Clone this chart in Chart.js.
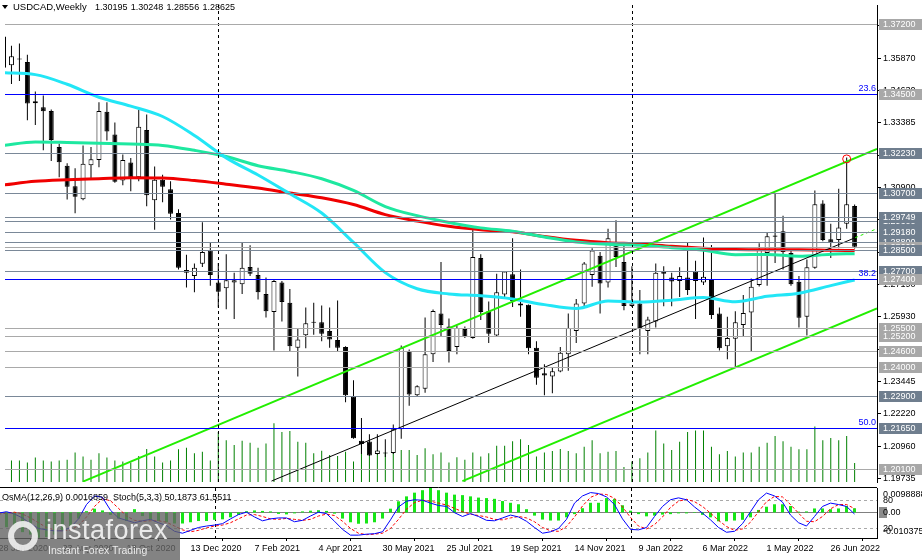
<!DOCTYPE html>
<html>
<head>
<meta charset="utf-8">
<title>USDCAD Weekly</title>
<script src="https://cdn.jsdelivr.net/npm/chart.js@4.4.1/dist/chart.umd.min.js"></script>
<style>
  html, body { margin: 0; padding: 0; background: #fff; }
  #wrap { position: relative; width: 922px; height: 560px; overflow: hidden; background: #fff; }
  canvas { position: absolute; left: 0; }
  #priceChart { top: 0; }
  #oscChart { top: 487px; }
  #logo { position: absolute; left: 0; top: 513px; width: 180px; height: 47px; background: rgba(100,100,100,0.8); font-family: "Liberation Sans", Arial, sans-serif; color: rgba(240,240,240,0.95); }
  #logo .ring { position: absolute; left: 8px; top: 8px; width: 18px; height: 18px; border: 6px solid rgba(240,240,240,0.9); border-radius: 50%; }
  #logo .brand { position: absolute; left: 46px; top: 3px; font-size: 27px; line-height: 28px; letter-spacing: 0.5px; }
  #logo .tag { position: absolute; left: 48px; top: 31px; font-size: 10.5px; line-height: 12px; }
</style>
</head>
<body>
<div id="wrap">
  <canvas id="priceChart" width="922" height="487"></canvas>
  <canvas id="oscChart" width="922" height="73"></canvas>
  <div id="logo"><div class="ring"></div><div class="brand">instaforex</div><div class="tag">Instant Forex Trading</div></div>
</div>
<script>
// ================================================================
// USDCAD Weekly - data
// ================================================================

// weekly candles, first entry is the week of 28 Jun 2020
const openPrice = [
  1.3670, 1.3560, 1.3586, 1.3572, 1.3422, 1.3399, 1.3384, 1.3246, 1.3174, 1.3095,
  1.3045, 1.3176, 1.3196, 1.3381, 1.3294, 1.3117, 1.3186, 1.3130, 1.3311, 1.3041,
  1.3120, 1.3083, 1.2992, 1.2773, 1.2750, 1.2797, 1.2848, 1.2725, 1.2703, 1.2725,
  1.2718, 1.2785, 1.2754, 1.2681, 1.2612, 1.2725, 1.2647, 1.2474, 1.2522, 1.2570,
  1.2572, 1.2539, 1.2504, 1.2477, 1.2286, 1.2117, 1.2114, 1.2066, 1.2070, 1.2070,
  1.2161, 1.2462, 1.2292, 1.2317, 1.2449, 1.2606, 1.2556, 1.2477, 1.2546, 1.2512,
  1.2819, 1.2615, 1.2521, 1.2679, 1.2757, 1.2644, 1.2640, 1.2474, 1.2376, 1.2364,
  1.2383, 1.2449, 1.2539, 1.2644, 1.2754, 1.2828, 1.2725, 1.2872, 1.2804, 1.2635,
  1.2644, 1.2539, 1.2575, 1.2767, 1.2744, 1.2731, 1.2744, 1.2767, 1.2725, 1.2735,
  1.2606, 1.2480, 1.2509, 1.2562, 1.2610, 1.2715, 1.2838, 1.2906, 1.2922, 1.2838,
  1.2728, 1.2593, 1.2782, 1.3029, 1.2891, 1.2888, 1.2951, 1.30195
];
const highPrice = [
  1.3700, 1.3635, 1.3644, 1.3600, 1.3459, 1.3444, 1.3390, 1.3258, 1.3183, 1.3164,
  1.3252, 1.3246, 1.3418, 1.3418, 1.3340, 1.3217, 1.3204, 1.3388, 1.3371, 1.3171,
  1.3139, 1.3114, 1.3007, 1.2832, 1.2798, 1.2957, 1.2879, 1.2800, 1.2834, 1.2763,
  1.2878, 1.2868, 1.2782, 1.2744, 1.2738, 1.2731, 1.2700, 1.2546, 1.2629, 1.2647,
  1.2637, 1.2629, 1.2656, 1.2480, 1.2349, 1.2204, 1.2142, 1.2142, 1.2123, 1.2179,
  1.2483, 1.2468, 1.2330, 1.2591, 1.2621, 1.2804, 1.2587, 1.2560, 1.2556, 1.2932,
  1.2834, 1.2652, 1.2759, 1.2769, 1.2895, 1.2775, 1.2641, 1.2499, 1.2411, 1.2399,
  1.2477, 1.2606, 1.2662, 1.2804, 1.2857, 1.2842, 1.2932, 1.2964, 1.2876, 1.2788,
  1.2696, 1.2593, 1.2798, 1.2788, 1.2763, 1.2784, 1.2879, 1.2809, 1.2898, 1.2869,
  1.2629, 1.2593, 1.2615, 1.2677, 1.2740, 1.2876, 1.2916, 1.3067, 1.2982, 1.2847,
  1.2750, 1.2813, 1.3079, 1.3041, 1.2951, 1.3085, 1.3205, 1.30248
];
const lowPrice = [
  1.3530, 1.3488, 1.3499, 1.3349, 1.3330, 1.3233, 1.3192, 1.3130, 1.3044, 1.2991,
  1.3041, 1.3127, 1.3168, 1.3271, 1.3108, 1.3099, 1.3076, 1.3114, 1.3018, 1.2928,
  1.3033, 1.2967, 1.2775, 1.2706, 1.2688, 1.2785, 1.2713, 1.2629, 1.2622, 1.2585,
  1.2681, 1.2750, 1.2660, 1.2591, 1.2464, 1.2575, 1.2462, 1.2364, 1.2472, 1.2524,
  1.2499, 1.2474, 1.2459, 1.2265, 1.2125, 1.2066, 1.2058, 1.2064, 1.2054, 1.2066,
  1.2125, 1.2251, 1.2288, 1.2301, 1.2420, 1.2518, 1.2418, 1.2449, 1.2512, 1.2509,
  1.2581, 1.2493, 1.2518, 1.2665, 1.2631, 1.2593, 1.2449, 1.2332, 1.2292, 1.2299,
  1.2380, 1.2386, 1.2493, 1.2631, 1.2709, 1.2606, 1.2706, 1.2785, 1.2618, 1.2631,
  1.2449, 1.2449, 1.2552, 1.2634, 1.2634, 1.2669, 1.2677, 1.2585, 1.2715, 1.2585,
  1.2464, 1.2430, 1.2401, 1.2518, 1.2462, 1.2710, 1.2713, 1.2800, 1.2775, 1.2713,
  1.2552, 1.2521, 1.2778, 1.2884, 1.2819, 1.2857, 1.2932, 1.28556
];
const closePrice = [
  1.3550, 1.3595, 1.3582, 1.3413, 1.3414, 1.3383, 1.3273, 1.3187, 1.3093, 1.3055,
  1.3181, 1.3199, 1.3384, 1.3305, 1.3112, 1.3196, 1.3130, 1.3324, 1.3060, 1.3120,
  1.3093, 1.2989, 1.2782, 1.2763, 1.2782, 1.2842, 1.2754, 1.2690, 1.2734, 1.2734,
  1.2782, 1.2759, 1.2688, 1.2615, 1.2731, 1.2650, 1.2480, 1.2506, 1.2568, 1.2572,
  1.2528, 1.2506, 1.2474, 1.2292, 1.2127, 1.2104, 1.2060, 1.2079, 1.2068, 1.2161,
  1.2474, 1.2295, 1.2326, 1.2449, 1.2616, 1.2562, 1.2462, 1.2550, 1.2516, 1.2823,
  1.2612, 1.2528, 1.2688, 1.2767, 1.2654, 1.2637, 1.2472, 1.2359, 1.2368, 1.2384,
  1.2455, 1.2550, 1.2644, 1.2798, 1.2848, 1.2721, 1.2895, 1.2823, 1.2635, 1.2644,
  1.2547, 1.2583, 1.2763, 1.2759, 1.2729, 1.2750, 1.2696, 1.2731, 1.2747, 1.2600,
  1.2472, 1.2512, 1.2572, 1.2608, 1.2709, 1.2851, 1.2903, 1.2901, 1.2842, 1.2718,
  1.2590, 1.2784, 1.3026, 1.2888, 1.2879, 1.2936, 1.3026, 1.28625
];
const tickVolume = [
  70, 66, 66, 60, 75, 66, 63, 66, 68, 90,
  78, 68, 88, 75, 66, 63, 60, 80, 101, 78,
  60, 66, 100, 105, 88, 93, 66, 153, 128, 113,
  126, 120, 105, 118, 180, 153, 156, 123, 120, 88,
  96, 83, 80, 93, 63, 118, 90, 98, 90, 88,
  98, 98, 83, 103, 85, 90, 60, 76, 68, 90,
  78, 88, 111, 111, 125, 131, 113, 78, 90, 95,
  101, 95, 88, 108, 128, 88, 93, 95, 46, 63,
  73, 90, 158, 118, 98, 123, 153, 158, 158, 108,
  85, 95, 78, 90, 90, 108, 120, 141, 125, 108,
  100, 100, 170, 128, 135, 128, 141, 58
];

// OsMA(12,26,9) and Stoch(5,3,3), same weeks as the candles
const osmaValue = [
  -0.0055, -0.0060, -0.0070, -0.0080, -0.0090, -0.0103, -0.0100, -0.0090, -0.0075, -0.0055,
  -0.0025, 0.0005, 0.0015, 0.0008, -0.0010, -0.0025, -0.0035, 0.0013, -0.0015, -0.0030,
  -0.0035, -0.0040, -0.0045, -0.0045, -0.0040, -0.0035, -0.0035, -0.0030, -0.0028, -0.0020,
  -0.0010, 0.0005, 0.0008, 0.0006, 0.0004, -0.0006, -0.0008, -0.0004, 0.0004, 0.0007,
  0.0009, 0.0006, -0.0005, -0.0025, -0.0040, -0.0046, -0.0045, -0.0040, -0.0025, 0.0015,
  0.0045, 0.0065, 0.0080, 0.0090, 0.0099, 0.0090, 0.0080, 0.0072, 0.0070, 0.0065,
  0.0060, 0.0058, 0.0055, 0.0046, 0.0039, 0.0033, 0.0013, -0.0013, -0.0029, -0.0033,
  -0.0033, -0.0020, -0.0007, 0.0017, 0.0039, 0.0039, 0.0058, 0.0055, 0.0029, 0.0007,
  -0.0007, -0.0016, -0.0013, -0.0009, -0.0007, -0.0004, -0.0004, -0.0002, -0.0010, -0.0020,
  -0.0036, -0.0036, -0.0033, -0.0030, -0.0020, 0.0010, 0.0023, 0.0033, 0.0033, 0.0026,
  0.0003, 0.0004, 0.0016, 0.0016, 0.0013, 0.0016, 0.0026, 0.0016859
];
const stochMain = [
  52, 55, 50, 42, 30, 20, 17, 15, 15, 22,
  40, 70, 88, 85, 58, 42, 37, 32, 36, 39,
  32, 26, 14, 10, 16, 22, 25, 27, 30, 40,
  49, 54, 44, 36, 40, 42, 42, 34, 37, 46,
  54, 51, 35, 18, 6, 6, 8, 9, 13, 38,
  65, 77, 80, 79, 73, 68, 66, 53, 45, 51,
  45, 37, 36, 42, 48, 44, 35, 22, 10, 13,
  20, 39, 73, 88, 95, 93, 86, 70, 40, 18,
  17, 22, 45, 66, 80, 84, 80, 65, 52, 38,
  22, 12, 14, 30, 55, 80, 94, 88, 75, 48,
  32, 25, 45, 66, 73, 70, 66, 50.1873
];
const stochSignal = [
  50, 52, 54, 50, 42, 32, 22, 17, 15, 17,
  26, 44, 66, 82, 78, 62, 46, 37, 35, 36,
  36, 33, 25, 17, 13, 16, 21, 25, 27, 32,
  40, 48, 49, 45, 40, 39, 41, 39, 37, 39,
  46, 50, 47, 35, 20, 10, 7, 8, 10, 20,
  39, 60, 74, 79, 77, 73, 69, 62, 55, 50,
  47, 44, 39, 38, 42, 45, 42, 34, 22, 15,
  14, 24, 44, 67, 85, 92, 91, 83, 65, 43,
  25, 19, 28, 44, 64, 77, 81, 76, 66, 52,
  37, 24, 16, 19, 33, 55, 76, 87, 86, 70,
  52, 35, 34, 45, 61, 70, 70, 61.5511
];

// moving averages, read every 4 weeks
const maWeeks = [-1, 3, 7, 11, 15, 19, 23, 27, 31, 35, 39, 43, 47, 51, 55, 59, 63, 67, 71, 75, 79, 83, 87, 91, 95, 99, 103, 106];
const maCyan = [1.3531, 1.3524, 1.3487, 1.3437, 1.3403, 1.3363, 1.3290, 1.3204, 1.3138, 1.3066, 1.2992, 1.2879, 1.2763, 1.2701, 1.2681, 1.2674, 1.2662, 1.2640, 1.2625, 1.2654, 1.2650, 1.2657, 1.2667, 1.2651, 1.2672, 1.2684, 1.2713, 1.2735];
const maMint = [1.3252, 1.3265, 1.3263, 1.3260, 1.3257, 1.3252, 1.3233, 1.3209, 1.3174, 1.3152, 1.3124, 1.3079, 1.3017, 1.2982, 1.2956, 1.2935, 1.2922, 1.2900, 1.2881, 1.2872, 1.2868, 1.2859, 1.2849, 1.2832, 1.2833, 1.2826, 1.2834, 1.2836];
const maRed = [1.3100, 1.3114, 1.3120, 1.3124, 1.3128, 1.3127, 1.3117, 1.3103, 1.3088, 1.3069, 1.3051, 1.3025, 1.2986, 1.2961, 1.2941, 1.2928, 1.2920, 1.2902, 1.2887, 1.2878, 1.2873, 1.2864, 1.2857, 1.2852, 1.2851, 1.2851, 1.2849, 1.2848];

// trend channel (week, price)
const upperChannelWeeks = [8.98, 108.81];
const upperChannelPrice = [1.1960, 1.3238];
const lowerChannelWeeks = [56.69, 108.81];
const lowerChannelPrice = [1.1962, 1.2625];
const trendWeeks = [32.69, 106.06];
const trendPrice = [1.1962, 1.2897];
const trendExtWeeks = [106.06, 108.81];
const trendExtPrice = [1.2897, 1.2932];
const markWeek = [105];
const markPrice = [1.3200];

// horizontal levels
const levelPrices = [1.3720, 1.3450, 1.3223, 1.3070, 1.2960, 1.29749, 1.2918, 1.2880, 1.2860, 1.2850, 1.2770, 1.2740, 1.2550, 1.2520, 1.2460, 1.2400, 1.2290, 1.2165, 1.2010];
const fibPrices = [1.3450, 1.2740, 1.2165];
const fibLabels = ['23.6', '38.2', '50.0'];

// axes
const priceTicks = [1.37110, 1.35870, 1.34630, 1.33385, 1.32140, 1.30900, 1.29655, 1.28415, 1.27190, 1.25930, 1.24690, 1.23445, 1.22220, 1.20960, 1.19735];
const dateLabels = ['28 Jun 2020', '23 Aug 2020', '18 Oct 2020', '13 Dec 2020', '7 Feb 2021', '4 Apr 2021', '30 May 2021', '25 Jul 2021', '19 Sep 2021', '14 Nov 2021', '9 Jan 2022', '6 Mar 2022', '1 May 2022', '26 Jun 2022'];
const dateLabelWeeks = [-1, 7, 15, 23, 31, 39, 47, 55, 63, 71, 79, 87, 95, 103];
const separatorWeeks = [26, 78];

// ================================================================
// styles
// ================================================================
const FONT = '"Liberation Sans", Arial, sans-serif';
const levelLineColor = { g: '#a9a9a9', s: '#7a8898', f: '#0000ff' };
const levelLineKind = ['g', 'f', 's', 's', 's', 's', 's', 's', 'g', 's', 's', 'f', 'g', 'g', 'g', 'g', 's', 'f', 'g'];
const levelBoxColor = { g: '#a8a8a8', s: '#6f7e8e' };
const levelBoxKind = ['g', 'g', 's', 's', 's', 's', 's', 's', 'g', 's', 's', 'g', 'g', 'g', 'g', 'g', 's', 's', 'g'];
const X_MIN = -0.8125;
const X_MAX = 108.8125;

const weekIndex = openPrice.map((_, i) => i - 1);
const xy = (xs, ys) => xs.map((x, i) => ({ x: x, y: ys[i] }));

function hLine(ctx, area, py) {
  const yy = Math.round(py) + 0.5;
  ctx.beginPath();
  ctx.moveTo(area.left, yy);
  ctx.lineTo(area.right, yy);
  ctx.stroke();
}

function vLine(ctx, area, px) {
  const xx = Math.round(px) + 0.5;
  ctx.beginPath();
  ctx.moveTo(xx, area.top);
  ctx.lineTo(xx, area.bottom);
  ctx.stroke();
}

// ================================================================
// main pane overlay
// ================================================================
const priceOverlay = {
  id: 'priceOverlay',
  afterDatasetsDraw(chart) {
    const { ctx, chartArea: area, scales: { x, y } } = chart;
    ctx.save();
    ctx.lineWidth = 1;

    // period separators
    ctx.strokeStyle = '#000';
    ctx.setLineDash([3, 3]);
    separatorWeeks.forEach(w => vLine(ctx, area, x.getPixelForValue(w)));
    ctx.setLineDash([]);

    // levels
    levelPrices.forEach((p, i) => {
      ctx.strokeStyle = levelLineColor[levelLineKind[i]];
      hLine(ctx, area, y.getPixelForValue(p));
    });

    // fibo texts
    ctx.font = '9px ' + FONT;
    ctx.fillStyle = '#0000ff';
    ctx.textAlign = 'right';
    ctx.textBaseline = 'bottom';
    fibPrices.forEach((p, i) => {
      ctx.fillText(fibLabels[i], area.right - 1, Math.round(y.getPixelForValue(p)) - 1);
    });
    ctx.restore();
  },
  afterDraw(chart) {
    const { ctx, chartArea: area, scales: { y } } = chart;
    ctx.save();

    // level labels on the price axis
    ctx.font = '9px ' + FONT;
    ctx.textAlign = 'left';
    ctx.textBaseline = 'middle';
    levelPrices.forEach((p, i) => {
      const py = Math.round(y.getPixelForValue(p));
      ctx.fillStyle = levelBoxColor[levelBoxKind[i]];
      ctx.fillRect(area.right + 2, py - 5, chart.width - area.right - 2, 11);
      ctx.fillStyle = '#ffffff';
      ctx.fillText(p.toFixed(5), area.right + 6, py + 0.5);
    });

    // title
    const last = openPrice.length - 1;
    ctx.fillStyle = '#000';
    ctx.beginPath();
    ctx.moveTo(2, 5);
    ctx.lineTo(8, 5);
    ctx.lineTo(5, 9);
    ctx.closePath();
    ctx.fill();
    ctx.font = '9.5px ' + FONT;
    ctx.fillText('USDCAD,Weekly', 13, 7.5);
    ctx.font = '9px ' + FONT;
    [openPrice[last], highPrice[last], lowPrice[last], closePrice[last]].forEach((v, i) => {
      ctx.fillText(v.toFixed(5), 95 + i * 35.8, 7.5);
    });
    ctx.restore();
  }
};

// ================================================================
// oscillator pane overlay
// ================================================================
const oscOverlay = {
  id: 'oscOverlay',
  beforeDatasetsDraw(chart) {
    const { ctx, chartArea: area, scales: { x, yO, yS } } = chart;
    ctx.save();
    ctx.lineWidth = 1;
    ctx.strokeStyle = '#a9a9a9';
    ctx.setLineDash([3, 3]);
    hLine(ctx, area, yS.getPixelForValue(80));
    hLine(ctx, area, yS.getPixelForValue(20));
    ctx.setLineDash([]);
    ctx.strokeStyle = '#808080';
    hLine(ctx, area, yO.getPixelForValue(0));
    ctx.strokeStyle = '#000';
    ctx.setLineDash([3, 3]);
    separatorWeeks.forEach(w => vLine(ctx, area, x.getPixelForValue(w)));
    ctx.restore();
  },
  afterDraw(chart) {
    const { ctx, chartArea: area, scales: { yO, yS } } = chart;
    const last = osmaValue.length - 1;
    ctx.save();

    // pane border
    ctx.strokeStyle = '#000';
    ctx.lineWidth = 1;
    ctx.beginPath();
    ctx.moveTo(0, 0.5);
    ctx.lineTo(area.right, 0.5);
    ctx.stroke();

    // header
    ctx.font = '9px ' + FONT;
    ctx.fillStyle = '#000';
    ctx.textAlign = 'left';
    ctx.textBaseline = 'middle';
    ctx.fillText('OsMA(12,26,9) ' + osmaValue[last].toFixed(7) + '  Stoch(5,3,3) ' +
      stochMain[last].toFixed(4) + ' ' + stochSignal[last].toFixed(4), 2, 11);

    // right scale texts
    const rx = area.right + 6;
    ctx.fillText('0.0098888', rx, area.top + 7);
    ctx.fillText('80', rx, Math.round(yS.getPixelForValue(80)) + 0.5);
    ctx.fillText('-0.010375', rx, area.bottom - 6);
    ctx.fillText('20', rx, Math.round(yS.getPixelForValue(20)) + 0.5);
    const zy = Math.round(yO.getPixelForValue(0));
    ctx.fillStyle = '#8c8c8c';
    ctx.fillRect(area.right + 2, zy - 5, 8, 11);
    ctx.fillStyle = '#000';
    ctx.fillText('0.00', rx, zy + 0.5);
    ctx.restore();
  }
};

// ================================================================
// price chart
// ================================================================
new Chart(document.getElementById('priceChart'), {
  type: 'bar',
  data: {
    datasets: [
      {
        type: 'bar', label: 'Volumes', yAxisID: 'yVol',
        data: xy(weekIndex, tickVolume),
        backgroundColor: '#008000', barThickness: 1, grouped: false, inflateAmount: 0, order: 20
      },
      {
        type: 'bar', label: 'Wicks', yAxisID: 'y',
        data: weekIndex.map((w, i) => ({ x: w, y: [lowPrice[i], highPrice[i]] })),
        backgroundColor: '#000000', barThickness: 1, grouped: false, inflateAmount: 0, order: 19
      },
      {
        type: 'bar', label: 'Bodies', yAxisID: 'y',
        data: weekIndex.map((w, i) => ({ x: w, y: [openPrice[i], closePrice[i]] })),
        backgroundColor: c => (closePrice[c.dataIndex] >= openPrice[c.dataIndex] ? '#ffffff' : '#000000'),
        borderColor: '#000000', borderWidth: 1, borderSkipped: false,
        barThickness: 5, minBarLength: 1, grouped: false, inflateAmount: 0, order: 18
      },
      {
        type: 'line', label: 'MA red', yAxisID: 'y', data: xy(maWeeks, maRed),
        borderColor: '#f00000', borderWidth: 3, pointRadius: 0, cubicInterpolationMode: 'monotone', order: 17
      },
      {
        type: 'line', label: 'MA mint', yAxisID: 'y', data: xy(maWeeks, maMint),
        borderColor: '#1ee8a0', borderWidth: 3, pointRadius: 0, cubicInterpolationMode: 'monotone', order: 16
      },
      {
        type: 'line', label: 'MA cyan', yAxisID: 'y', data: xy(maWeeks, maCyan),
        borderColor: '#22e6f6', borderWidth: 3, pointRadius: 0, cubicInterpolationMode: 'monotone', order: 15
      },
      {
        type: 'line', label: 'Trend', yAxisID: 'y', data: xy(trendWeeks, trendPrice),
        borderColor: '#000000', borderWidth: 1, pointRadius: 0, order: 14
      },
      {
        type: 'line', label: 'Trend ext', yAxisID: 'y', data: xy(trendExtWeeks, trendExtPrice),
        borderColor: '#22ee00', borderWidth: 1, borderDash: [3, 3], pointRadius: 0, order: 13
      },
      {
        type: 'line', label: 'Lower channel', yAxisID: 'y', data: xy(lowerChannelWeeks, lowerChannelPrice),
        borderColor: '#22ee00', borderWidth: 2, pointRadius: 0, order: 12
      },
      {
        type: 'line', label: 'Upper channel', yAxisID: 'y', data: xy(upperChannelWeeks, upperChannelPrice),
        borderColor: '#22ee00', borderWidth: 2, pointRadius: 0, order: 11
      },
      {
        type: 'line', label: 'Mark', yAxisID: 'y', data: xy(markWeek, markPrice),
        showLine: false, pointRadius: 4, pointBorderWidth: 1, pointBorderColor: '#ff0000',
        pointBackgroundColor: 'rgba(0,0,0,0)', order: 10
      }
    ]
  },
  options: {
    responsive: false,
    animation: false,
    events: [],
    layout: { padding: 0 },
    plugins: { legend: { display: false }, tooltip: { enabled: false } },
    scales: {
      x: { type: 'linear', min: X_MIN, max: X_MAX, offset: false, display: false },
      yVol: { type: 'linear', min: 0, max: 1461, display: false },
      y: {
        type: 'linear',
        position: 'right',
        min: 1.19584,
        max: 1.37915,
        afterBuildTicks: s => { s.ticks = priceTicks.map(v => ({ value: v })); },
        afterFit: s => { s.width = 45; s.paddingTop = 0; s.paddingBottom = 0; },
        ticks: {
          autoSkip: false, padding: 2, color: '#000',
          font: { family: FONT, size: 9 },
          callback: v => Number(v).toFixed(5)
        },
        grid: { drawOnChartArea: false, tickLength: 4, color: '#000' },
        border: { color: '#000' }
      }
    }
  },
  plugins: [priceOverlay]
});

// ================================================================
// oscillator chart
// ================================================================
new Chart(document.getElementById('oscChart'), {
  type: 'bar',
  data: {
    datasets: [
      {
        type: 'line', label: 'Stoch main', yAxisID: 'yS', data: xy(weekIndex, stochMain),
        borderColor: '#0000ff', borderWidth: 1, pointRadius: 0, order: 1
      },
      {
        type: 'line', label: 'Stoch signal', yAxisID: 'yS', data: xy(weekIndex, stochSignal),
        borderColor: '#ff0000', borderWidth: 1, borderDash: [3, 2], pointRadius: 0, order: 2
      },
      {
        type: 'bar', label: 'OsMA', yAxisID: 'yO', data: xy(weekIndex, osmaValue),
        backgroundColor: '#16e616', barThickness: 3, grouped: false, inflateAmount: 0, order: 3
      }
    ]
  },
  options: {
    responsive: false,
    animation: false,
    events: [],
    layout: { padding: { top: 1, left: 0, right: 0, bottom: 0 } },
    plugins: { legend: { display: false }, tooltip: { enabled: false } },
    scales: {
      x: {
        type: 'linear', position: 'bottom', min: X_MIN, max: X_MAX, offset: false,
        afterBuildTicks: s => { s.ticks = dateLabelWeeks.map(v => ({ value: v })); },
        afterFit: s => { s.height = 22; s.paddingLeft = 0; s.paddingRight = 0; },
        ticks: {
          autoSkip: false, maxRotation: 0, align: 'start', padding: 2, color: '#000',
          font: { family: FONT, size: 9 },
          callback: (v, i) => dateLabels[i]
        },
        grid: { drawOnChartArea: false, tickLength: 3, color: '#000' },
        border: { color: '#000' }
      },
      yO: {
        type: 'linear', position: 'right', min: -0.010375, max: 0.0098888,
        afterFit: s => { s.width = 45; s.paddingTop = 0; s.paddingBottom = 0; },
        ticks: { display: false },
        grid: { display: false },
        border: { display: true, color: '#000' }
      },
      yS: { type: 'linear', min: 0, max: 104.6, display: false }
    }
  },
  plugins: [oscOverlay]
});
</script>
</body>
</html>
